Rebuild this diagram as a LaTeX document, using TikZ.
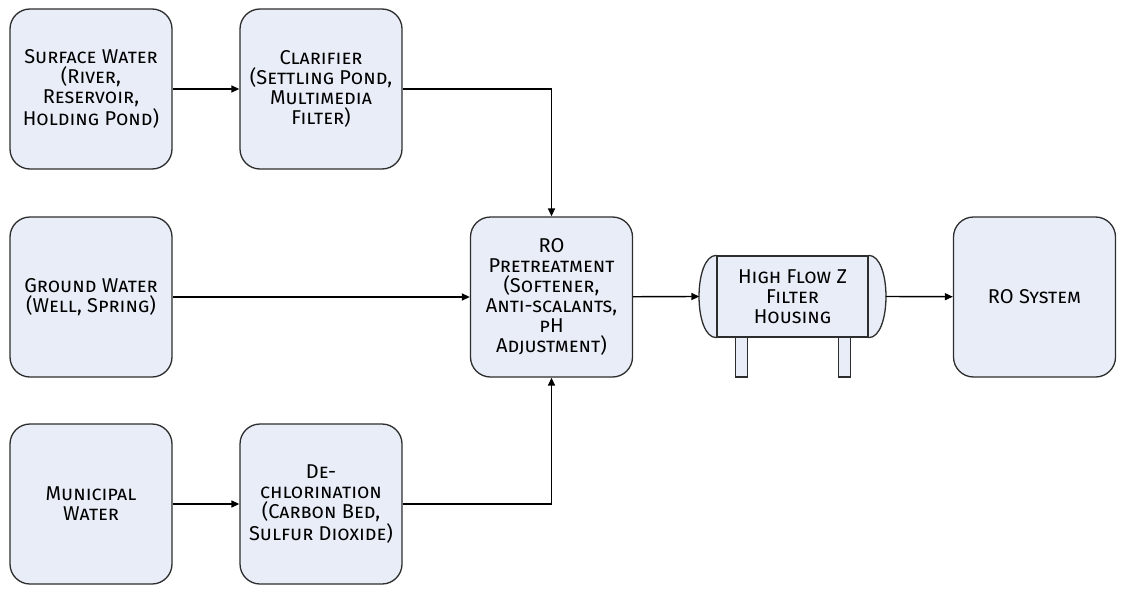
\documentclass[tikz,border=0pt]{standalone}
\usepackage{fontspec}
\setmainfont{Fira Sans}
\definecolor{boxfill}{RGB}{232, 237, 247}
\definecolor{boxline}{RGB}{45, 45, 45}
\usepackage{tikz}
\usetikzlibrary{arrows.meta, positioning, calc}

\begin{document}
\begin{tikzpicture}[x=1pt, y=-1pt,
    stage/.style={draw=boxline, fill=boxfill, line width=1.3pt, rounded corners=20pt,
      minimum width=162pt, minimum height=160pt, align=center, inner sep=4pt,
      font=\fontsize{20}{20}\selectfont\scshape},
    flow/.style={-{Triangle[length=8pt, width=7pt]}, line width=1.4pt, draw=black}]
  \useasboundingbox (0, 0) rectangle (1126, 594);

  % Water sources
  \node[stage] (surface) at (91, 89) {Surface Water\\(River,\\Reservoir,\\Holding Pond)};
  \node[stage] (ground) at (91, 297) {Ground Water\\(Well, Spring)};
  \node[stage] (municipal) at (91, 504) {Municipal\\Water};

  % First treatment steps
  \node[stage] (clarifier) at (321, 89) {Clarifier\\(Settling Pond,\\Multimedia\\Filter)};
  \node[stage] (dechlor) at (321, 504) {De-\\chlorination\\(Carbon Bed,\\Sulfur Dioxide)};

  % Pretreatment and RO
  \node[stage] (pretreat) at (551.5, 297) {RO\\Pretreatment\\(Softener,\\Anti-scalants,\\pH\\Adjustment)};
  \node[stage] (rosystem) at (1034.5, 297) {RO System};

  % Filter housing with legs
  \fill[boxfill, draw=boxline, line width=1.3pt] (735.5, 337) rectangle (747.5, 377);
  \fill[boxfill, draw=boxline, line width=1.3pt] (838.5, 337) rectangle (850.5, 377);
  \node[draw=boxline, fill=boxfill, line width=1.3pt, minimum width=151pt, minimum height=81pt,
    align=center, inner sep=2pt, font=\fontsize{20}{20}\selectfont\scshape] (housing) at (792.5, 296.5)
    {High Flow Z\\Filter\\Housing};
  \draw[boxline, fill=boxfill, line width=1.3pt] (housing.north west) to[out=180, in=180, looseness=0.72] (housing.south west);
  \draw[boxline, fill=boxfill, line width=1.3pt] (housing.north east) to[out=0, in=0, looseness=0.72] (housing.south east);
  \coordinate (hin) at ($(housing.west) + (-17, 0)$);
  \coordinate (hout) at ($(housing.east) + (17, 0)$);

  % Connectors
  \draw[flow] (surface) -- (clarifier);
  \draw[flow] (municipal) -- (dechlor);
  \draw[flow] (ground) -- (pretreat);
  \draw[flow] (clarifier.east) -| (pretreat.north);
  \draw[flow] (dechlor.east) -| (pretreat.south);
  \draw[flow] (pretreat) -- (hin);
  \draw[flow] (hout) -- (rosystem);
\end{tikzpicture}
\end{document}
